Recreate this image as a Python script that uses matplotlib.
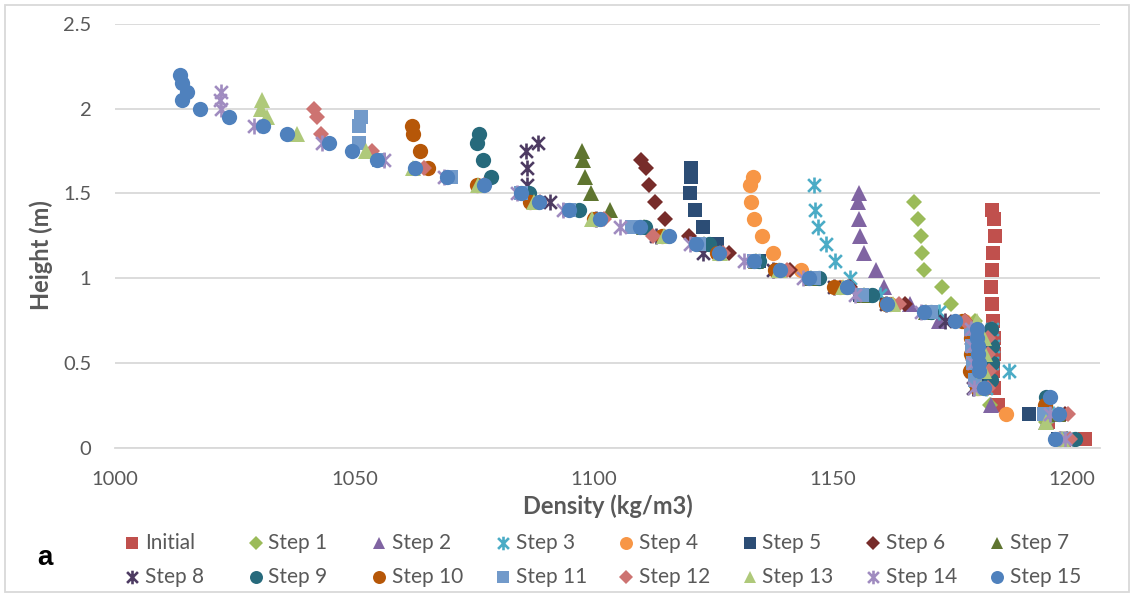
import matplotlib
matplotlib.use("Agg")
import matplotlib.pyplot as plt
from matplotlib.lines import Line2D
from matplotlib.patches import Rectangle
from matplotlib.path import Path

# ---- data: height (m) and density (kg/m3) for each step ----
h_init = [1.4, 1.35, 1.25, 1.15, 1.05, 0.95, 0.85, 0.75, 0.65, 0.55, 0.45, 0.35, 0.25, 0.15, 0.05]
d_init = [1183.3, 1183.6, 1183.8, 1183.5, 1183.3, 1183.0, 1183.2, 1183.5, 1183.6, 1183.7, 1183.4, 1183.6, 1184.5, 1195.0, 1202.7]

h_s1 = [1.45, 1.35, 1.25, 1.15, 1.05, 0.95, 0.85, 0.75, 0.65, 0.55, 0.45, 0.35, 0.25, 0.15, 0.05]
d_s1 = [1166.9, 1167.7, 1168.3, 1168.7, 1169.1, 1172.7, 1174.7, 1179.6, 1180.4, 1180.6, 1180.8, 1181.0, 1182.9, 1194.6, 1198.5]

h_s2 = [1.5, 1.45, 1.35, 1.25, 1.15, 1.05, 0.95, 0.85, 0.75, 0.65, 0.55, 0.45, 0.35, 0.25, 0.15, 0.05]
d_s2 = [1155.4, 1155.2, 1155.4, 1155.7, 1156.4, 1158.9, 1160.6, 1166.2, 1172.2, 1179.5, 1180.0, 1180.3, 1180.8, 1183.0, 1194.5, 1198.0]

h_s3 = [1.55, 1.4, 1.3, 1.2, 1.1, 1.0, 0.9, 0.8, 0.7, 0.6, 0.5, 0.45, 0.35, 0.2, 0.05]
d_s3 = [1146.0, 1146.3, 1146.9, 1148.6, 1150.5, 1153.5, 1159.9, 1172.1, 1183.2, 1183.4, 1183.3, 1186.7, 1182.0, 1196.0, 1199.0]

h_s4 = [1.6, 1.55, 1.45, 1.35, 1.25, 1.15, 1.05, 0.95, 0.85, 0.75, 0.65, 0.55, 0.45, 0.35, 0.2, 0.05]
d_s4 = [1133.3, 1132.6, 1132.8, 1133.5, 1135.2, 1137.5, 1143.4, 1151.5, 1162.0, 1177.3, 1179.5, 1179.6, 1179.0, 1180.5, 1186.2, 1197.5]

h_s5 = [1.65, 1.6, 1.5, 1.4, 1.3, 1.2, 1.1, 1.0, 0.9, 0.8, 0.7, 0.6, 0.5, 0.4, 0.2, 0.05]
d_s5 = [1120.4, 1120.3, 1120.1, 1121.2, 1122.8, 1125.8, 1134.5, 1146.0, 1155.7, 1170.0, 1179.0, 1179.2, 1179.4, 1180.0, 1190.9, 1197.0]

h_s6 = [1.7, 1.65, 1.55, 1.45, 1.35, 1.25, 1.15, 1.05, 0.95, 0.85, 0.75, 0.65, 0.55, 0.45, 0.35, 0.2, 0.05]
d_s6 = [1109.8, 1110.9, 1111.5, 1112.8, 1115.0, 1119.9, 1128.2, 1141.1, 1153.5, 1165.1, 1177.5, 1182.0, 1182.2, 1182.3, 1182.0, 1198.5, 1199.0]

h_s7 = [1.75, 1.7, 1.6, 1.5, 1.4, 1.3, 1.2, 1.1, 1.0, 0.9, 0.8, 0.7, 0.6, 0.5, 0.4, 0.2, 0.05]
d_s7 = [1097.5, 1097.8, 1098.3, 1099.4, 1103.4, 1110.5, 1123.0, 1134.0, 1145.5, 1156.5, 1169.5, 1179.3, 1179.5, 1179.8, 1180.2, 1197.0, 1198.0]

h_s8 = [1.8, 1.75, 1.65, 1.55, 1.45, 1.35, 1.25, 1.15, 1.05, 0.95, 0.85, 0.75, 0.65, 0.55, 0.45, 0.35, 0.05]
d_s8 = [1088.4, 1085.8, 1086.1, 1086.0, 1090.9, 1100.5, 1113.0, 1122.9, 1137.5, 1150.2, 1161.0, 1173.5, 1178.8, 1179.0, 1179.0, 1179.3, 1197.5]

h_s9 = [1.85, 1.8, 1.7, 1.6, 1.5, 1.4, 1.3, 1.2, 1.1, 1.0, 0.9, 0.8, 0.7, 0.6, 0.5, 0.4, 0.3, 0.05]
d_s9 = [1076.0, 1075.7, 1076.9, 1078.6, 1086.5, 1096.9, 1110.8, 1124.1, 1134.5, 1147.0, 1158.2, 1170.5, 1183.0, 1183.2, 1183.2, 1183.0, 1194.5, 1200.6]

h_s10 = [1.9, 1.85, 1.75, 1.65, 1.55, 1.45, 1.35, 1.25, 1.15, 1.05, 0.95, 0.85, 0.75, 0.65, 0.55, 0.45, 0.35, 0.25, 0.05]
d_s10 = [1062.1, 1062.3, 1063.7, 1065.4, 1075.7, 1086.8, 1100.0, 1114.3, 1125.7, 1138.0, 1150.3, 1161.0, 1177.0, 1178.8, 1178.8, 1178.7, 1180.0, 1194.4, 1197.0]

h_s11 = [1.95, 1.9, 1.8, 1.7, 1.6, 1.5, 1.4, 1.3, 1.2, 1.1, 1.0, 0.9, 0.8, 0.7, 0.6, 0.5, 0.4, 0.2, 0.05]
d_s11 = [1051.5, 1051.0, 1051.0, 1055.2, 1070.1, 1084.8, 1094.8, 1108.0, 1122.0, 1133.5, 1146.0, 1156.1, 1170.4, 1178.8, 1179.0, 1179.2, 1179.6, 1194.0, 1197.8]

h_s12 = [2.0, 1.95, 1.85, 1.75, 1.65, 1.55, 1.45, 1.35, 1.25, 1.15, 1.05, 0.95, 0.85, 0.75, 0.65, 0.55, 0.45, 0.35, 0.2, 0.05]
d_s12 = [1041.6, 1042.2, 1043.0, 1053.8, 1064.6, 1077.0, 1088.9, 1102.2, 1112.4, 1127.0, 1140.4, 1153.2, 1163.7, 1177.5, 1182.5, 1182.5, 1182.6, 1182.4, 1199.2, 1199.6]

h_s13 = [2.05, 2.0, 1.95, 1.85, 1.75, 1.65, 1.55, 1.45, 1.35, 1.25, 1.15, 1.05, 0.95, 0.85, 0.75, 0.65, 0.55, 0.45, 0.35, 0.15, 0.05]
d_s13 = [1030.8, 1030.5, 1031.8, 1038.1, 1052.4, 1062.3, 1075.8, 1087.5, 1099.7, 1114.8, 1126.5, 1138.7, 1152.2, 1162.5, 1180.1, 1181.5, 1181.7, 1181.6, 1181.0, 1194.6, 1197.8]

h_s14 = [2.1, 2.05, 2.0, 1.9, 1.8, 1.7, 1.6, 1.5, 1.4, 1.3, 1.2, 1.1, 1.0, 0.9, 0.8, 0.7, 0.6, 0.5, 0.35, 0.2, 0.05]
d_s14 = [1022.1, 1022.0, 1022.2, 1029.0, 1043.3, 1056.2, 1068.7, 1083.9, 1093.5, 1105.6, 1120.1, 1131.4, 1143.7, 1154.7, 1168.5, 1178.8, 1179.0, 1179.2, 1179.4, 1195.4, 1198.5]

h_s15 = [2.2, 2.15, 2.1, 2.05, 2.0, 1.95, 1.9, 1.85, 1.8, 1.75, 1.7, 1.65, 1.6, 1.55, 1.5, 1.45, 1.4, 1.35,
         1.3, 1.25, 1.2, 1.15, 1.1, 1.05, 1.0, 0.95, 0.85, 0.8, 0.75, 0.7, 0.65, 0.6, 0.55, 0.5, 0.45,
         0.35, 0.3, 0.2, 0.05]
d_s15 = [1013.6, 1014.0, 1015.0, 1014.0, 1017.7, 1023.9, 1031.0, 1036.0, 1044.7, 1049.5, 1054.8, 1062.7, 1069.4,
         1077.1, 1084.8, 1088.6, 1094.8, 1101.3, 1109.7, 1115.7, 1121.3, 1126.3, 1133.5, 1138.9, 1145.0, 1152.9,
         1161.2, 1169.0, 1175.6, 1180.0, 1180.2, 1180.3, 1180.4, 1180.5, 1180.6, 1181.5, 1195.4, 1197.3, 1196.4]

labels = ["Initial"] + [f"Step {i}" for i in range(1, 16)]
heights = [h_init, h_s1, h_s2, h_s3, h_s4, h_s5, h_s6, h_s7, h_s8, h_s9, h_s10, h_s11, h_s12, h_s13, h_s14, h_s15]
densities = [d_init, d_s1, d_s2, d_s3, d_s4, d_s5, d_s6, d_s7, d_s8, d_s9, d_s10, d_s11, d_s12, d_s13, d_s14, d_s15]

colors = ["#C0504D", "#9BBB59", "#8064A2", "#4BACC6", "#F79646", "#2C4D75", "#772C2A", "#5F7530",
          "#4D3B62", "#276A7C", "#B65708", "#729ACA", "#CD7371", "#AFC97A", "#A08CC0", "#4F81BD"]

# excel style "star": an x with a vertical bar
STAR = Path([(-1, -1), (1, 1), (-1, 1), (1, -1), (0, -1.25), (0, 1.25)],
            [Path.MOVETO, Path.LINETO, Path.MOVETO, Path.LINETO, Path.MOVETO, Path.LINETO])
markers = ["s", "D", "^", STAR, "o", "s", "D", "^", STAR, "o", "o", "s", "D", "^", STAR, "o"]
msizes = {"s": 10.5, "D": 8.5, "^": 11, "o": 11}

GRAY = "#595959"
GRID = "#D9D9D9"
plt.rcParams["font.family"] = ["Lato", "DejaVu Sans"]

W, H = 1134, 595
fig = plt.figure(figsize=(W / 100, H / 100), dpi=100)
ax = fig.add_axes([115 / W, 1 - 447.7 / H, (1100 - 115) / W, (447.7 - 24) / H])


def style(m, c, ms_scale=1.0):
    if isinstance(m, Path):
        return dict(marker=m, ms=11.5 * ms_scale, mfc="none", mec=c, mew=1.9)
    return dict(marker=m, ms=msizes[m] * ms_scale, mfc=c, mec=c, mew=0)


for d, h, m, c, lab in zip(densities, heights, markers, colors, labels):
    ax.plot(d, h, ls="none", label=lab, clip_on=False, **style(m, c))

ax.set_xlim(1000, 1205.8)
ax.set_ylim(0, 2.5)
ax.set_xticks([1000, 1050, 1100, 1150, 1200])
ax.set_yticks([0, 0.5, 1, 1.5, 2, 2.5])
ax.set_yticklabels(["0", "0.5", "1", "1.5", "2", "2.5"])
ax.grid(axis="y", color=GRID, lw=1.3)
ax.set_axisbelow(True)
for s in ("left", "right", "top"):
    ax.spines[s].set_visible(False)
ax.spines["bottom"].set_color(GRID)
ax.spines["bottom"].set_linewidth(1.3)
ax.tick_params(length=0, labelsize=14.5, labelcolor=GRAY)
ax.tick_params(axis="x", pad=17)
ax.tick_params(axis="y", pad=17)

ax.set_xlabel("Density (kg/m3)", fontsize=17, fontweight="bold", color=GRAY, va="center")
ax.xaxis.set_label_coords(0.5, (447.7 - 506.5) / 423.7)
ax.set_ylabel("Height (m)", fontsize=17, fontweight="bold", color=GRAY, va="center")
ax.yaxis.set_label_coords((41.7 - 115) / 985, (447.7 - 255) / 423.7)

# legend laid out like the excel one: two rows of eight
leg_x = [132 + 123.5 * i for i in range(8)]
leg_y = [543, 577]
for i, (m, c, lab) in enumerate(zip(markers, colors, labels)):
    x, y = leg_x[i % 8], leg_y[i // 8]
    fig.add_artist(Line2D([x / W], [1 - y / H], transform=fig.transFigure, ls="none", **style(m, c, 0.85)))
    fig.text((x + 13) / W, 1 - y / H, lab, fontsize=15, color=GRAY, ha="left", va="center")

fig.text(45 / W, 1 - 558 / H, "a", fontsize=20, fontweight="bold", color="black",
         family=["Liberation Sans", "DejaVu Sans"], ha="center", va="center")

fig.add_artist(Rectangle((5 / W, 3 / H), (W - 10) / W, (H - 8) / H, transform=fig.transFigure,
                         fill=False, ec=GRID, lw=1.3))

fig.savefig("out.png", dpi=100)
